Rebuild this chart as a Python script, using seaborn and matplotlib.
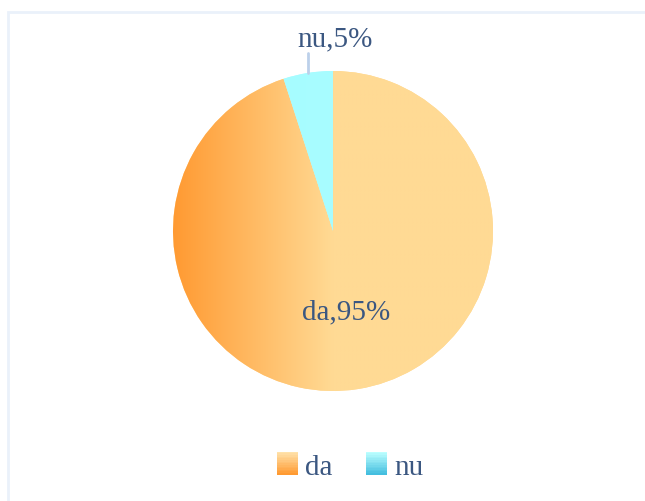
import numpy as np
import matplotlib
matplotlib.use("Agg")
import matplotlib.pyplot as plt
import seaborn as sns
from matplotlib.patches import Rectangle
from matplotlib.legend_handler import HandlerBase
from matplotlib.colors import to_rgb

labels = ["da", "nu"]
values = [95, 5]
# gradient colours per slice: (left/dark, right/light)
slice_colors = [("#ff9a32", "#ffda94"), ("#a2fbff", "#a8fdff")]
legend_colors = [("#ffe2aa", "#ff9a32"), ("#bcffff", "#44bedf")]
text_color = "#3b5781"

sns.set_theme(style="white")
plt.rcParams["font.family"] = ["Liberation Serif", "DejaVu Serif"]


class GradientHandler(HandlerBase):
    def __init__(self, top, bottom, n=14):
        super().__init__()
        self.top = np.array(to_rgb(top))
        self.bottom = np.array(to_rgb(bottom))
        self.n = n

    def create_artists(self, legend, orig_handle, xdescent, ydescent,
                       width, height, fontsize, trans):
        arts = []
        for i in range(self.n):
            t = i / (self.n - 1)
            c = self.top * (1 - t) + self.bottom * t
            y = -ydescent + height * (1 - (i + 1) / self.n)
            arts.append(Rectangle((-xdescent, y), width, height / self.n + 0.3,
                                  facecolor=c, edgecolor="none", transform=trans))
        return arts


W, H = 645, 502
fig = plt.figure(figsize=(W / 100, H / 100), dpi=100)
fig.patch.set_facecolor("white")

# light frame
fig.add_artist(Rectangle((8 / W, -0.1), 1.2, (H - 13) / H + 0.1,
                         transform=fig.transFigure, facecolor="none",
                         edgecolor="#eaf1fa", linewidth=2))

cx, cy, r = 333, 232, 160
ax = fig.add_axes([(cx - r) / W, 1 - (cy + r) / H, 2 * r / W, 2 * r / H])

wedges, _ = ax.pie(values, startangle=90, counterclock=False, radius=1,
                   colors=[c[1] for c in slice_colors],
                   wedgeprops=dict(edgecolor="none"))
ax.set_xlim(-1, 1)
ax.set_ylim(-1, 1)
ax.axis("off")

# gradient fills clipped to wedges
xs = np.linspace(-1, 1, 400)
for w, (c0, c1) in zip(wedges, slice_colors):
    c0, c1 = np.array(to_rgb(c0)), np.array(to_rgb(c1))
    t = np.clip((xs + 1) / 1.0, 0, 1)
    row = c0[None, :] * (1 - t[:, None]) + c1[None, :] * t[:, None]
    img = np.repeat(row[None, :, :], 10, axis=0)
    im = ax.imshow(img, extent=[-1, 1, -1, 1], aspect="auto", zorder=2,
                   interpolation="bilinear")
    im.set_clip_path(w)

total = sum(values)
fs = 21
# da label inside
w = wedges[0]
mid = np.deg2rad((w.theta1 + w.theta2) / 2)
ax.text(0.51 * np.cos(mid), 0.51 * np.sin(mid), f"{labels[0]},{values[0]/total:.0%}",
        ha="center", va="center", fontsize=fs, color=text_color, zorder=5)

# nu label outside with leader line
w = wedges[1]
mid = np.deg2rad((w.theta1 + w.theta2) / 2)
ex, ey = np.cos(mid), np.sin(mid)
ax.plot([ex, ex], [ey, 1.11], color="#bcd0ea", lw=2, zorder=5, clip_on=False)
ax.text(ex + 0.17, 1.12, f"{labels[1]},{values[1]/total:.0%}",
        ha="center", va="bottom", fontsize=fs, color=text_color, zorder=5)

handles = [Rectangle((0, 0), 1, 1) for _ in labels]
handler_map = {h: GradientHandler(*c) for h, c in zip(handles, legend_colors)}
leg = fig.legend(handles, labels, handler_map=handler_map, loc="center",
                 bbox_to_anchor=(350 / W, (H - 467) / H), ncol=2, frameon=False,
                 fontsize=fs, handlelength=0.72, handleheight=0.83,
                 handletextpad=0.25, columnspacing=1.15)
for t in leg.get_texts():
    t.set_color(text_color)

fig.savefig("out.png", dpi=100)
